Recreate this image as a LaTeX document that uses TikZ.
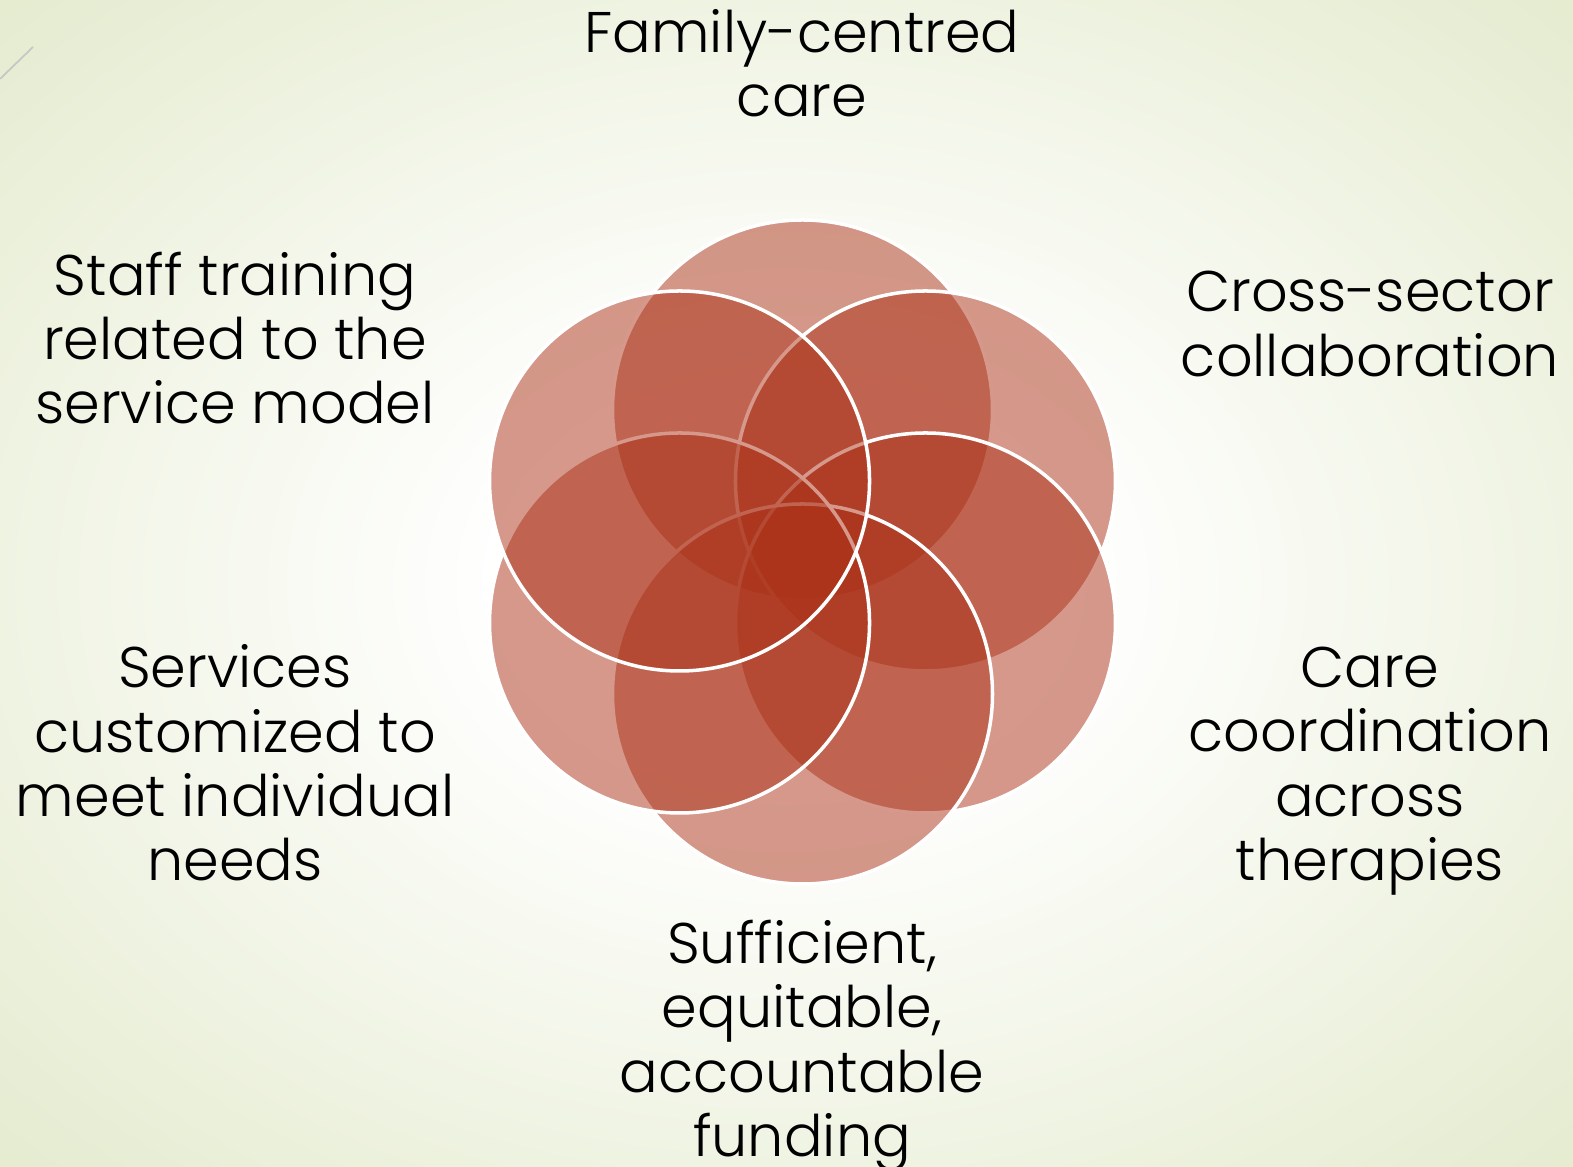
\documentclass[tikz,border=0pt]{standalone}
\usepackage{fontspec}
\setmainfont{Poppins Light}
\usepackage{xcolor}
\definecolor{petalred}{RGB}{172,50,24}
\definecolor{bgedge}{RGB}{228,235,206}
\pgfdeclareradialshading{slidebg}{\pgfpoint{0bp}{0bp}}{color(0bp)=(white); color(9bp)=(white); color(36bp)=(bgedge); color(50bp)=(bgedge)}
\tikzset{
  petal/.style={circle, inner sep=0pt, minimum size=3.8cm, fill=petalred, fill opacity=0.5, draw=white, line width=1pt},
  pillar/.style={align=center, font=\fontsize{16.3}{18.3}\selectfont}
}

\begin{document}
\begin{tikzpicture}
  % background
  \useasboundingbox (0,0) rectangle (15.73,11.67);
  \shade[shading=slidebg] (0,0) rectangle (15.73,11.67);
  \draw[gray!45, line width=0.5pt] (0,10.88) -- (0.33,11.20);

  % draw the six circles
  \begin{scope}[shift={(8.025,6.15)}]
    \foreach \ang/\name in {90/top,30/upright,-30/lowright,-90/bottom,-150/lowleft,150/upleft}
      \node[petal] (\name) at (\ang:1.42) {};
  \end{scope}

  % draw labels
  \node[pillar] (family) at (8.02,11.04) {Family-centred\\care};
  \node[pillar] (cross) at (13.70,8.43) {Cross-sector\\collaboration};
  \node[pillar] (coord) at (13.70,3.96) {Care\\coordination\\across\\therapies};
  \node[pillar] (funding) at (8.02,1.21) {Sufficient,\\equitable,\\accountable\\funding};
  \node[pillar] (custom) at (2.35,4.04) {Services\\customized to\\meet individual\\needs};
  \node[pillar] (staff) at (2.35,8.29) {Staff training\\related to the\\service model};
\end{tikzpicture}
\end{document}
